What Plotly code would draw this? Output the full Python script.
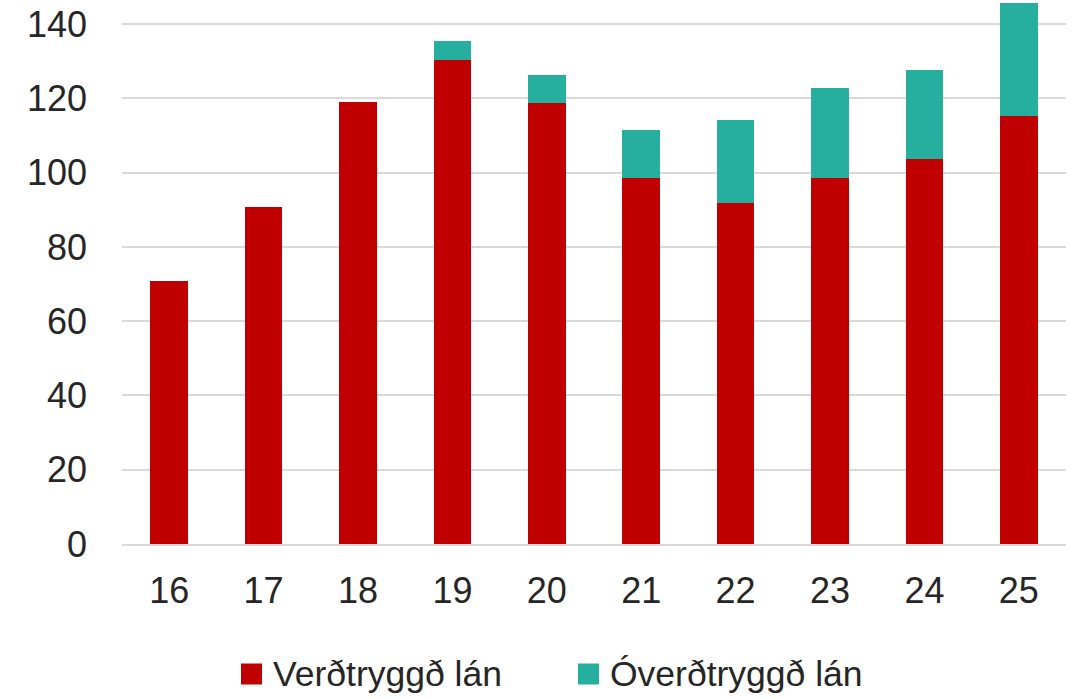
import plotly.graph_objects as go

years = ["16", "17", "18", "19", "20", "21", "22", "23", "24", "25"]
verdtryggd = [70.8, 90.7, 119.0, 130.3, 118.7, 98.5, 91.8, 98.5, 103.7, 115.2]
overdtryggd = [0.0, 0.0, 0.0, 5.1, 7.6, 13.0, 22.4, 24.3, 23.9, 30.5]
y_ticks = [0, 20, 40, 60, 80, 100, 120, 140]
series_names = ["Verðtryggð lán", "Óverðtryggð lán"]
series_colors = ["#C00000", "#26AE9F"]

font_family = "Liberation Sans, Arial, sans-serif"
text_color = "#262626"

W, H = 1077, 698
L, R, T, B = 122, 11, 0, 154
plot_w = W - L - R
plot_h = H - T - B

fig = go.Figure()
for vals, name, col in zip([verdtryggd, overdtryggd], series_names, series_colors):
    fig.add_trace(go.Bar(x=years, y=vals, name=name, showlegend=False,
                         marker=dict(color=col, line=dict(width=0))))

# custom legend (large square keys as in the reference)
legend_sq_x = [241, 578]
legend_sq = 21
legend_cy = 674
for sx, name, col in zip(legend_sq_x, series_names, series_colors):
    x0 = (sx - L) / plot_w
    x1 = (sx + legend_sq - L) / plot_w
    y0 = (plot_h + T - (legend_cy + legend_sq / 2)) / plot_h
    y1 = (plot_h + T - (legend_cy - legend_sq / 2)) / plot_h
    fig.add_shape(type="rect", xref="paper", yref="paper", x0=x0, x1=x1, y0=y0, y1=y1,
                  fillcolor=col, line=dict(width=0))
    fig.add_annotation(xref="paper", yref="paper", x=(sx + legend_sq + 9 - L) / plot_w,
                       y=(plot_h + T - legend_cy) / plot_h, xanchor="left", yanchor="middle",
                       text=name, showarrow=False,
                       font=dict(size=35.5, family=font_family, color=text_color))

fig.update_layout(
    barmode="stack",
    bargap=0.6,
    width=W, height=H,
    margin=dict(l=L, r=R, t=T, b=B, autoexpand=False),
    paper_bgcolor="white", plot_bgcolor="white",
    font=dict(family=font_family, color=text_color),
    xaxis=dict(tickfont=dict(size=36), showgrid=False, showline=True,
               linecolor="#D9D9D9", linewidth=2, ticks="", ticklabelstandoff=14,
               automargin=False),
    yaxis=dict(range=[0, 146.5], tickvals=y_ticks, tickfont=dict(size=36),
               showgrid=True, gridcolor="#D9D9D9", gridwidth=2,
               zeroline=False, showline=False, ticks="", ticklabelstandoff=34,
               automargin=False),
)

fig.write_html("out.html", config={"displayModeBar": False},
               post_script="document.body.style.margin='0';")
